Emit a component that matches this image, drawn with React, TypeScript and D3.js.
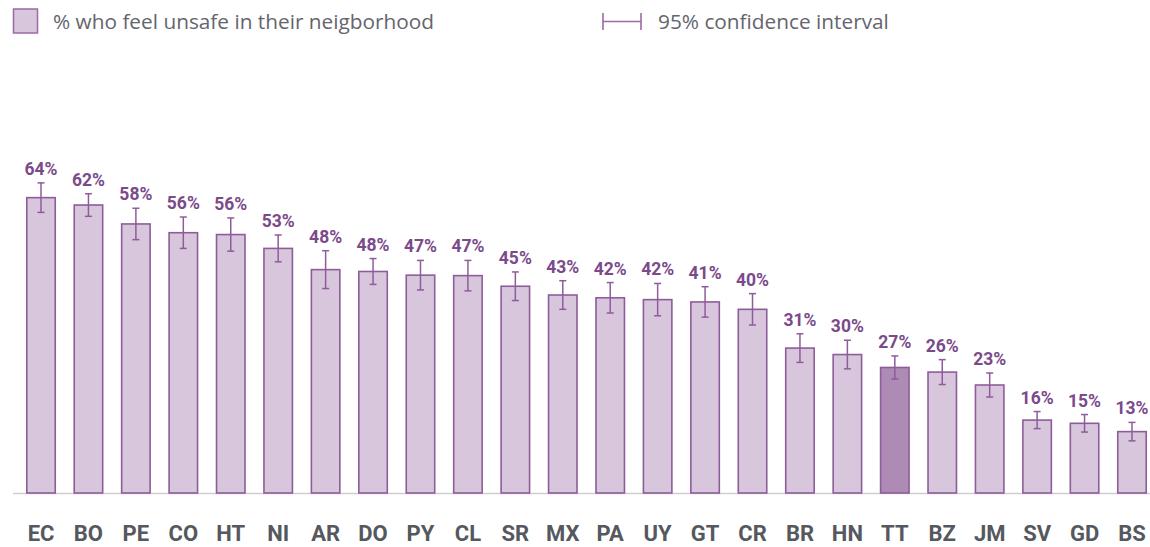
import React from "react";
import * as d3 from "d3";

// countries, share who feel unsafe (%), and half-width of the 95% CI (pct points)
const countries = ["EC", "BO", "PE", "CO", "HT", "NI", "AR", "DO", "PY", "CL", "SR", "MX", "PA", "UY", "GT", "CR", "BR", "HN", "TT", "BZ", "JM", "SV", "GD", "BS"];
const unsafeValues = [64.0, 62.4, 58.3, 56.4, 56.0, 53.0, 48.4, 48.0, 47.2, 47.1, 44.8, 42.9, 42.3, 41.9, 41.4, 39.8, 31.4, 30.0, 27.2, 26.2, 23.4, 15.8, 15.1, 13.3];
const ciHalf = [3.2, 2.45, 3.4, 3.4, 3.6, 2.9, 4.1, 2.8, 3.2, 3.3, 3.1, 3.1, 3.3, 3.5, 3.3, 3.4, 3.1, 3.1, 2.5, 2.7, 2.6, 1.85, 1.9, 2.0];
const highlighted = ["TT"];

const legendLabels = ["% who feel unsafe in their neigborhood", "95% confidence interval"];

const W = 1150;
const H = 547;
const baseline = 493;

const App: React.FC = () => {
  const x = d3
    .scaleBand<string>()
    .domain(countries)
    .range([17.3, 1155.7])
    .paddingInner(0.4)
    .paddingOuter(0.2);

  const y = d3.scaleLinear().domain([0, 100]).range([baseline, baseline - 461.5]);

  const fmt = (v: number) => `${Math.round(v)}%`;
  const bw = x.bandwidth();

  return (
    <svg
      width={W}
      height={H}
      style={{ position: "absolute", left: 0, top: 0, background: "#fff" }}
    >
      {/* legend */}
      <rect x={13.5} y={9} width={24} height={24} fill="#d8c7dc" stroke="#9b6aa6" strokeWidth={1.5} />
      <text x={53} y={28.5} fontFamily="'Open Sans', sans-serif" fontSize={20.8} fill="#65656d">
        {legendLabels[0]}
      </text>
      <g stroke="#9b6aa6" strokeWidth={1.6}>
        <line x1={603} x2={603} y1={13} y2={30} />
        <line x1={641} x2={641} y1={13} y2={30} />
        <line x1={603} x2={641} y1={21.5} y2={21.5} />
      </g>
      <text x={658} y={28.5} fontFamily="'Open Sans', sans-serif" fontSize={20.8} fill="#65656d">
        {legendLabels[1]}
      </text>

      {/* axis line */}
      <line x1={13} x2={1150} y1={baseline + 0.5} y2={baseline + 0.5} stroke="#cfcfd3" strokeWidth={1.5} />

      {/* bars */}
      {countries.map((c, i) => {
        const v = unsafeValues[i];
        const x0 = x(c) as number;
        return (
          <rect
            key={c}
            x={x0}
            y={y(v)}
            width={bw}
            height={baseline - y(v)}
            fill={highlighted.includes(c) ? "#ae8bb5" : "#d8c7dc"}
            stroke="#8e5c9b"
            strokeWidth={1.6}
          />
        );
      })}

      {/* error bars + value labels */}
      {countries.map((c, i) => {
        const v = unsafeValues[i];
        const cx = (x(c) as number) + bw / 2;
        const top = y(v + ciHalf[i]);
        const bot = y(v - ciHalf[i]);
        return (
          <g key={c}>
            <g stroke="#8e5c9b" strokeWidth={1.5}>
              <line x1={cx} x2={cx} y1={top} y2={bot} />
              <line x1={cx - 3.5} x2={cx + 3.5} y1={top} y2={top} />
              <line x1={cx - 3.5} x2={cx + 3.5} y1={bot} y2={bot} />
            </g>
            <text
              x={cx}
              y={top - 8}
              textAnchor="middle"
              fontFamily="Roboto, sans-serif"
              fontWeight="bold"
              fontSize={17.5}
              fill="#7b4a8b"
            >
              {fmt(v)}
            </text>
          </g>
        );
      })}

      {/* category labels */}
      {countries.map((c) => (
        <text
          key={c}
          x={(x(c) as number) + bw / 2}
          y={541}
          textAnchor="middle"
          fontFamily="Roboto, sans-serif"
          fontWeight="bold"
          fontSize={22}
          fill="#55585e"
        >
          {c}
        </text>
      ))}
    </svg>
  );
};

export default App;
